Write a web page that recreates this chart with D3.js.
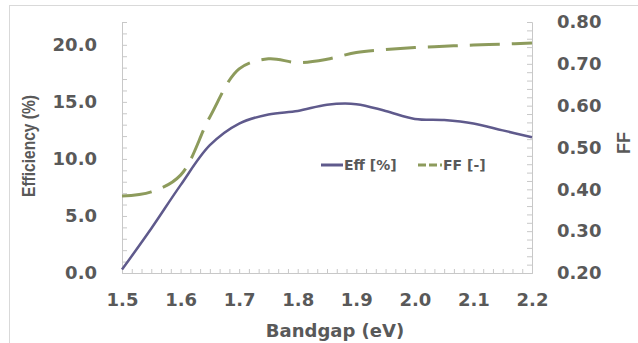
<!DOCTYPE html>
<html lang="en">
<head>
<meta charset="UTF-8">
<title>Efficiency and FF vs Bandgap</title>
<script src="https://d3js.org/d3.v7.min.js"></script>
<style>
    body { margin: 0; background: #fff; }
    .tick-label text { font-family: "DejaVu Sans", Verdana, sans-serif; font-weight: bold; font-size: 18px; fill: #595959; }
    .axis-title { font-family: "DejaVu Sans", Verdana, sans-serif; font-weight: bold; font-size: 18px; fill: #595959; }
    .axis-title.narrow { font-family: "Liberation Sans", Arial, sans-serif; }
    .legend text { font-family: "DejaVu Sans", Verdana, sans-serif; font-weight: bold; font-size: 14px; fill: #595959; }
</style>
</head>
<body>
<svg id="chart" width="638" height="343"></svg>
<script>
    // values
    const bandgap = [1.50, 1.55, 1.60, 1.65, 1.70, 1.75, 1.80, 1.85, 1.90, 1.95, 2.00, 2.05, 2.10, 2.15, 2.20];
    const effValues = [0.3, 3.9, 7.7, 11.2, 13.1, 13.9, 14.2, 14.75, 14.8, 14.2, 13.5, 13.4, 13.1, 12.5, 11.9];
    const ffValues = [0.384, 0.394, 0.434, 0.573, 0.688, 0.712, 0.703, 0.711, 0.727, 0.734, 0.739, 0.742, 0.745, 0.747, 0.750];

    const xTicks = [1.5, 1.6, 1.7, 1.8, 1.9, 2.0, 2.1, 2.2];
    const effTicks = [0, 5, 10, 15, 20];
    const ffTicks = [0.2, 0.3, 0.4, 0.5, 0.6, 0.7, 0.8];
    const seriesNames = ["Eff [%]", "FF [-]"];

    const margin = { top: 22, right: 106, bottom: 70, left: 122 },
        W = 638, H = 343,
        width = W - margin.left - margin.right,
        height = H - margin.top - margin.bottom;

    const purple = "#5f5a8c", green = "#8d9b5c", axisGrey = "#c8c8c8";

    const svg = d3.select("#chart");

    // outer frame
    svg.append("rect")
        .attr("x", 9.5).attr("y", 5.5)
        .attr("width", 640).attr("height", 345)
        .attr("fill", "none").attr("stroke", "#d9d9d9");

    const g = svg.append("g").attr("transform", `translate(${margin.left},${margin.top})`);

    const x = d3.scaleLinear().domain([1.5, 2.2]).range([0, width]);
    const yL = d3.scaleLinear().domain([0, 22]).range([height, 0]);
    const yR = d3.scaleLinear().domain([0.2, 0.8]).range([height, 0]);

    // axis lines + minor ticks (pointing inward)
    const minorX = g.append("g").attr("transform", `translate(0,${height})`)
        .call(d3.axisTop(x).tickValues(d3.range(0, 43).map(i => 1.5 + i / 60)).tickSize(4).tickFormat(""));
    const minorL = g.append("g")
        .call(d3.axisRight(yL).tickValues(d3.range(0, 23)).tickSize(5).tickFormat(""));
    const minorR = g.append("g").attr("transform", `translate(${width},0)`)
        .call(d3.axisLeft(yR).tickValues(d3.range(0, 31).map(i => 0.2 + i * 0.02)).tickSize(5).tickFormat(""));
    [minorX, minorL, minorR].forEach(a => {
        a.selectAll("path, line").attr("stroke", axisGrey);
    });

    // tick labels
    const labX = g.append("g").attr("class", "tick-label").attr("transform", `translate(0,${height})`)
        .call(d3.axisBottom(x).tickValues(xTicks).tickFormat(d3.format(".1f")).tickSize(0).tickPadding(20));
    const labL = g.append("g").attr("class", "tick-label")
        .call(d3.axisLeft(yL).tickValues(effTicks).tickFormat(d3.format(".1f")).tickSize(0).tickPadding(25));
    const labR = g.append("g").attr("class", "tick-label").attr("transform", `translate(${width},0)`)
        .call(d3.axisRight(yR).tickValues(ffTicks).tickFormat(d3.format(".2f")).tickSize(0).tickPadding(25));
    [labX, labL, labR].forEach(a => {
        a.select(".domain").remove();
        a.selectAll("text").attr("font-family", null).attr("font-size", null).attr("fill", null);
    });

    // series
    const effLine = d3.line()
        .x((d, i) => x(bandgap[i]))
        .y(d => yL(d))
        .curve(d3.curveCatmullRom.alpha(0.5));
    const ffLine = d3.line()
        .x((d, i) => x(bandgap[i]))
        .y(d => yR(d))
        .curve(d3.curveCatmullRom.alpha(0.5));

    g.append("path").datum(ffValues)
        .attr("d", ffLine)
        .attr("fill", "none")
        .attr("stroke", green)
        .attr("stroke-width", 3)
        .attr("stroke-dasharray", "30,12");

    g.append("path").datum(effValues)
        .attr("d", effLine)
        .attr("fill", "none")
        .attr("stroke", purple)
        .attr("stroke-width", 2.5);

    // axis titles
    svg.append("text").attr("class", "axis-title")
        .attr("x", 335).attr("y", 337)
        .attr("text-anchor", "middle")
        .text("Bandgap (eV)");

    svg.append("text").attr("class", "axis-title narrow")
        .attr("transform", "translate(35,146) rotate(-90)")
        .attr("text-anchor", "middle")
        .attr("textLength", 102)
        .attr("lengthAdjust", "spacingAndGlyphs")
        .text("Efficiency (%)");

    svg.append("text").attr("class", "axis-title narrow")
        .attr("transform", "translate(630,143) rotate(-90)")
        .attr("text-anchor", "middle")
        .text("FF");

    // legend
    const legend = svg.append("g").attr("class", "legend");
    legend.append("line")
        .attr("x1", 321).attr("x2", 343).attr("y1", 165).attr("y2", 165)
        .attr("stroke", purple).attr("stroke-width", 3);
    legend.append("text").attr("x", 344).attr("y", 170).text(seriesNames[0]);
    legend.append("line")
        .attr("x1", 418).attr("x2", 442).attr("y1", 165).attr("y2", 165)
        .attr("stroke", green).attr("stroke-width", 3)
        .attr("stroke-dasharray", "8,3");
    legend.append("text").attr("x", 443).attr("y", 170).text(seriesNames[1]);
</script>
</body>
</html>
